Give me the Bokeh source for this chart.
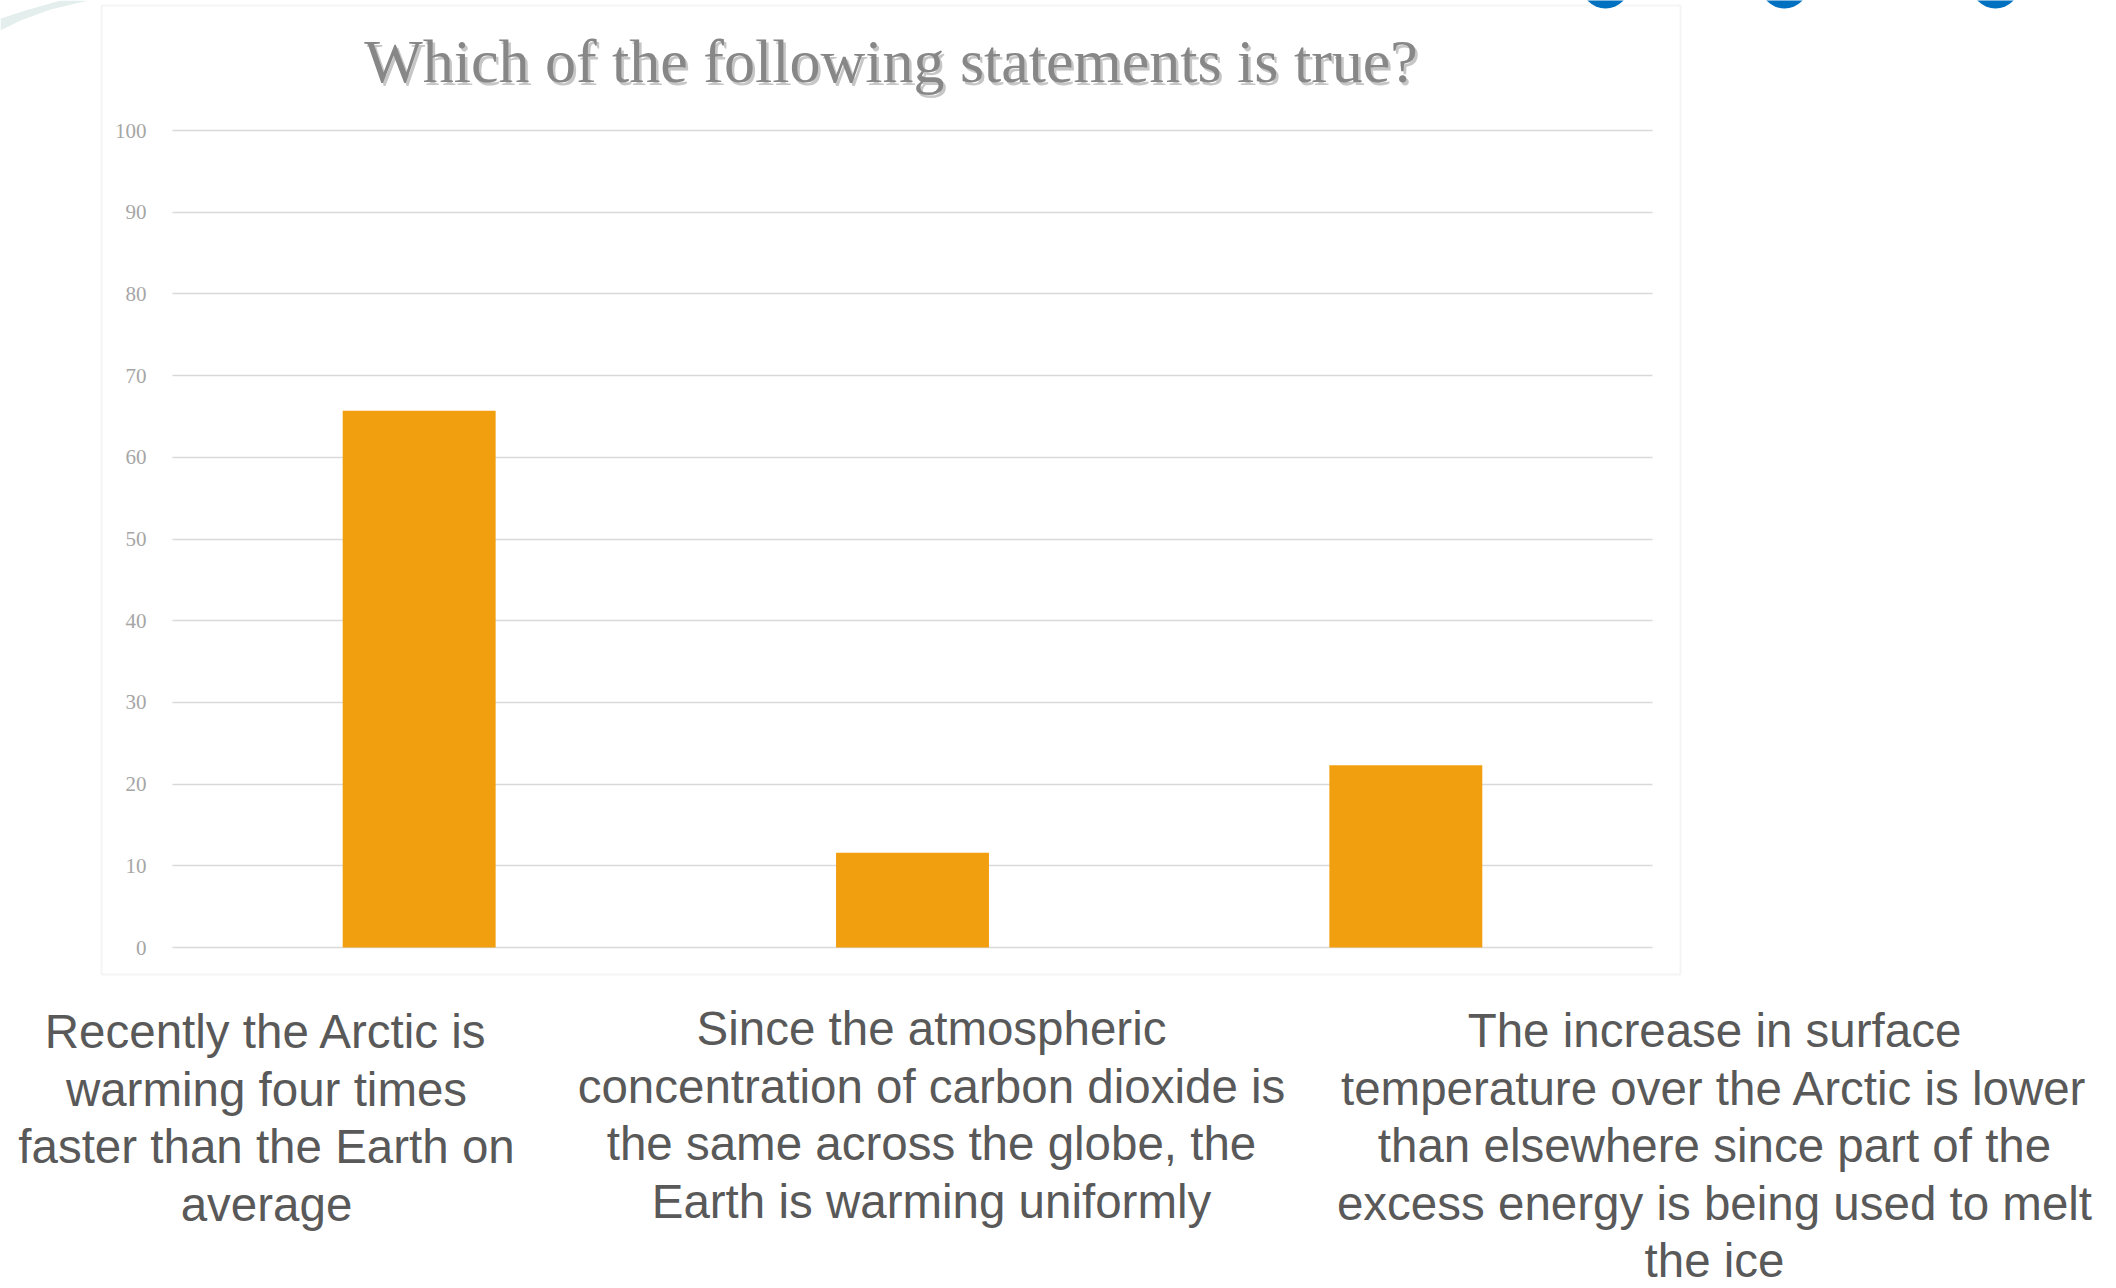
from bokeh.plotting import figure
from bokeh.models import Range1d, FixedTicker, Label, BoxAnnotation, PolyAnnotation
from bokeh.embed import file_html
from bokeh.resources import INLINE

# ---- data -----------------------------------------------------------------
title_text = "Which of the following statements is true?"

categories = [
    "Recently the Arctic is warming four times faster than the Earth on average",
    "Since the atmospheric concentration of carbon dioxide is the same across the globe, the Earth is warming uniformly",
    "The increase in surface temperature over the Arctic is lower than elsewhere since part of the excess energy is being used to melt the ice",
]
percent = [65.7, 11.6, 22.3]

y_ticks = [0, 10, 20, 30, 40, 50, 60, 70, 80, 90, 100]

# statement text boxes below the chart, one list of lines per answer
statement_lines = [
    ["Recently the Arctic is", "warming four times", "faster than the Earth on", "average"],
    ["Since the atmospheric", "concentration of carbon dioxide is",
     "the same across the globe, the", "Earth is warming uniformly"],
    ["The increase in surface", "temperature over the Arctic is lower",
     "than elsewhere since part of the", "excess energy is being used to melt", "the ice"],
]

# ---- page geometry (pixels) ------------------------------------------------
# The plot frame fills the whole page; the value axis sits inside it so that
# the title, the outer border and the statements can share the same canvas.
W, H = 2116, 1288
FL, FR, FT, FB = 172, 1652, 130, 947          # chart area edges on the page
N = len(categories)
Y0, Y1 = y_ticks[0], y_ticks[-1]
BASELINE_FIX = 0.37                           # em offset of the label anchor


def dx(px):
    """page pixel -> category axis units (category i is centred on i + 0.5)"""
    return (px - FL) / (FR - FL) * N


def dy(py):
    """page pixel (from top) -> value axis units"""
    return Y0 + (FB - py) / (FB - FT) * (Y1 - Y0)


p = figure(
    width=W, height=H,
    x_range=Range1d(dx(0), dx(W)),
    y_range=Range1d(dy(H), dy(0)),
    x_axis_location=None, y_axis_location="left",
    output_backend="svg", toolbar_location=None,
    min_border=0,
)
p.outline_line_color = None
p.background_fill_color = "white"
p.border_fill_color = "white"

# bars
x_pos = [i + 0.5 for i, _ in enumerate(categories)]
p.vbar(x=x_pos, top=percent, width=0.31, bottom=0,
       fill_color="#F29F0F", line_color=None)

# value axis (labels only) pinned to the left edge of the chart area
yax = p.yaxis[0]
yax.fixed_location = 0
yax.ticker = FixedTicker(ticks=y_ticks)
yax.bounds = (Y0, Y1)
yax.axis_line_color = None
yax.major_tick_line_color = None
yax.minor_tick_line_color = None
yax.major_label_standoff = 20
yax.major_label_text_font = "Liberation Serif"
yax.major_label_text_font_size = "21px"
yax.major_label_text_color = "#a6a6a6"

p.xgrid.visible = False
yg = p.ygrid[0]
yg.ticker = FixedTicker(ticks=y_ticks)
yg.cross_bounds = (0, N)
yg.grid_line_color = "#d9d9d9"
yg.grid_line_width = 1.5

# chart area border
p.add_layout(BoxAnnotation(left=dx(101), right=dx(1680), top=dy(5), bottom=dy(974),
                           fill_alpha=0, line_color="#d9d9d9", line_width=2))

# slide decorations: blue dots at the top edge, pale swoosh in the corner
for cx in (1605, 1784, 1995):
    p.add_layout(BoxAnnotation(left=dx(cx - 24), right=dx(cx + 24), top=dy(-40), bottom=dy(8),
                               fill_color="#0070C0", fill_alpha=1, line_color=None,
                               border_radius=24))
p.add_layout(PolyAnnotation(xs=[dx(0), dx(20), dx(50), dx(88), dx(60), dx(25), dx(0)],
                            ys=[dy(30), dy(20), dy(9), dy(0), dy(0), dy(10), dy(18)],
                            fill_color="#e4efed", fill_alpha=1, line_color=None))


def page_text(cx, baseline, text, font, size, color, alpha=1.0):
    p.add_layout(Label(x=dx(cx), y=dy(baseline - BASELINE_FIX * size), text=text,
                       text_align="center", text_baseline="alphabetic",
                       text_font=font, text_font_size=f"{size}px",
                       text_color=color, text_alpha=alpha))


# title with a soft shadow
page_text(893.0, 86.0, title_text, "Liberation Serif", 62, "#b8b8b8", 0.8)
page_text(890.5, 83.5, title_text, "Liberation Serif", 62, "#878787")

# statement text boxes
centers = [266, 931, 1714]
first_baselines = [1049, 1046, 1048]
LINE_STEP = 57.5
for cx, y_first, lines in zip(centers, first_baselines, statement_lines):
    for k, line in enumerate(lines):
        page_text(cx, y_first + k * LINE_STEP, line, "Liberation Sans", 47.5, "#595959")

open("out.html", "w").write(file_html(p, INLINE))
